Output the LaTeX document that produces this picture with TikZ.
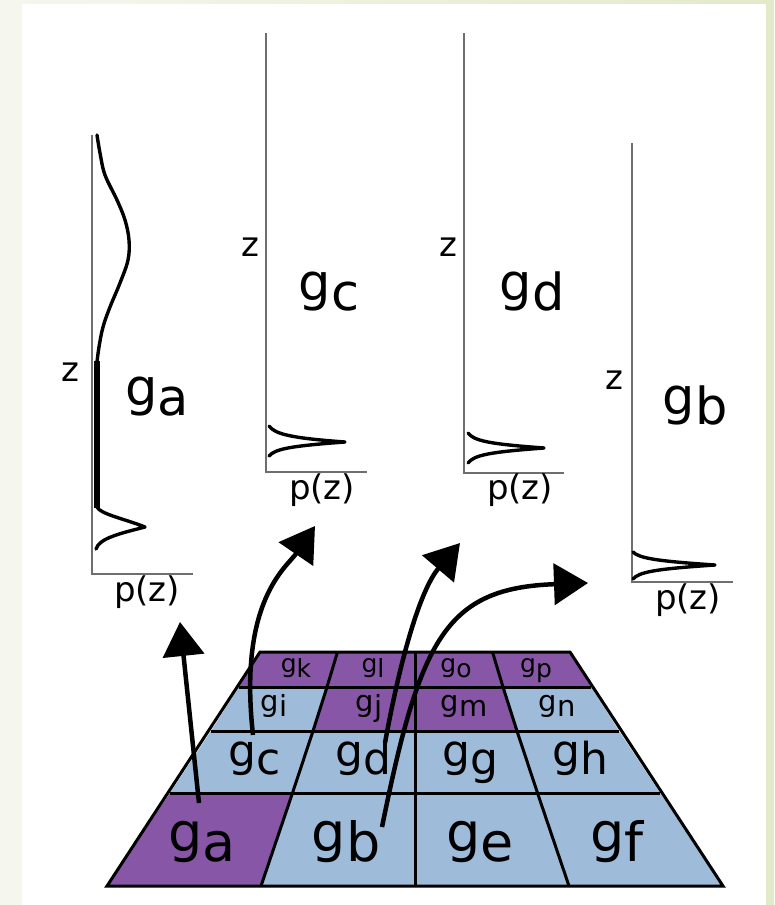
\documentclass[tikz,border=0pt]{standalone}
\usepackage{fontspec}
\setmainfont{DejaVu Sans}
\usetikzlibrary{arrows.meta}
\definecolor{cpurple}{HTML}{8856A7}
\definecolor{cblue}{HTML}{9EBCDA}
\definecolor{bgl}{HTML}{F5F7EE}
\definecolor{bgr}{HTML}{E2EACA}
\definecolor{axisgray}{HTML}{6E6E6E}
\newcommand{\gsub}[1]{g\raisebox{-0.2em}{#1}}
\newcommand{\fs}[1]{\fontsize{#1}{#1}\selectfont}
\begin{document}
\begin{tikzpicture}[x=1pt,y=-1pt,
  lbl/.style={inner sep=0pt,anchor=base},
  axisline/.style={draw=axisgray,line width=1.6pt},
  curve/.style={line width=3.4pt,line cap=round,line join=round},
  arr/.style={line width=4.5pt,-{Triangle[length=34pt,width=41pt]}},
  gridline/.style={line width=3pt,line join=miter}
]
\useasboundingbox (0,0) rectangle (774,905);
\shade[left color=bgl,right color=bgr] (0,0) rectangle (774,905);
\fill[white] (22,4) rectangle (766,905);

% grid coordinates
\foreach \r/\y/\h in {0/652/155,1/687/176,2/731/204,3/793/245,4/886/308}{
  \foreach \c in {0,...,4}{
    \coordinate (p\r\c) at ({415+(\c-2)*\h/2},\y);
  }
}
% cells
\foreach \r/\c/\col in {0/0/cpurple,0/1/cpurple,0/2/cpurple,0/3/cpurple,
                        1/0/cblue,1/1/cpurple,1/2/cpurple,1/3/cblue,
                        2/0/cblue,2/1/cblue,2/2/cblue,2/3/cblue,
                        3/0/cpurple,3/1/cblue,3/2/cblue,3/3/cblue}{
  \pgfmathtruncatemacro{\rr}{\r+1}
  \pgfmathtruncatemacro{\cc}{\c+1}
  \fill[\col] (p\r\c) -- (p\r\cc) -- (p\rr\cc) -- (p\rr\c) -- cycle;
}
\foreach \r in {1,2,3} \draw[gridline] (p\r0) -- (p\r4);
\foreach \c in {1,2,3} \draw[gridline] (p0\c) -- (p1\c) -- (p2\c) -- (p3\c) -- (p4\c);
\draw[gridline] (p00) -- (p04) -- (p44) -- (p40) -- cycle;

% cell labels
\node[lbl,font=\fs{25}] (gk) at (296,672) {\gsub{k}};
\node[lbl,font=\fs{25}] (gl) at (373,672) {\gsub{l}};
\node[lbl,font=\fs{25}] (go) at (456,672) {\gsub{o}};
\node[lbl,font=\fs{25}] (gp) at (536,672) {\gsub{p}};
\node[lbl,font=\fs{29}] (gi) at (274,711) {\gsub{i}};
\node[lbl,font=\fs{29}] (gj) at (369,711) {\gsub{j}};
\node[lbl,font=\fs{29}] (gm) at (464,711) {\gsub{m}};
\node[lbl,font=\fs{29}] (gn) at (557,711) {\gsub{n}};
\node[lbl,font=\fs{44}] (gc) at (255,766) {\gsub{c}};
\node[lbl,font=\fs{44}] (gd) at (363,766) {\gsub{d}};
\node[lbl,font=\fs{44}] (gg) at (470,766) {\gsub{g}};
\node[lbl,font=\fs{44}] (gh) at (580,766) {\gsub{h}};
\node[lbl,font=\fs{54}] (ga) at (202,851) {\gsub{a}};
\node[lbl,font=\fs{54}] (gb) at (346,851) {\gsub{b}};
\node[lbl,font=\fs{54}] (ge) at (480,851) {\gsub{e}};
\node[lbl,font=\fs{54}] (gf) at (617,851) {\gsub{f}};

% plots: axes
\draw[axisline] (92,135) -- (92,574) -- (193,574);
\draw[axisline] (266,33) -- (266,472) -- (367,472);
\draw[axisline] (464,33) -- (464,473) -- (564,473);
\draw[axisline] (632,143) -- (632,582) -- (733,582);

% plot curves
\draw[curve] plot[smooth,tension=0.6] coordinates {(97,135) (100,153) (105,175) (117,200) (125,220) (129,240) (128,260) (120,283) (110,307) (103,327) (99,347) (97,362)};
\draw[line width=5.5pt] (97,361) -- (97,508);
\draw[curve] (97,507) .. controls (100,514) and (125,519) .. (145,527) .. controls (122,533) and (99,538) .. (96,549);
\draw[curve] (269,426) .. controls (275,434) and (290,438) .. (345,442) .. controls (290,446) and (275,449) .. (269,456);
\draw[curve] (468,433) .. controls (474,441) and (490,444) .. (544,448) .. controls (490,452) and (474,455) .. (468,463);
\draw[curve] (633,552) .. controls (639,558) and (655,561) .. (715,565) .. controls (655,569) and (639,572) .. (633,579);

% plot labels
\node[lbl,font=\fs{51}] (la) at (157,405) {\gsub{a}};
\node[lbl,font=\fs{51}] (lc) at (329,300) {\gsub{c}};
\node[lbl,font=\fs{51}] (ld) at (532,300) {\gsub{d}};
\node[lbl,font=\fs{51}] (lb) at (695,414) {\gsub{b}};
\node[lbl,font=\fs{34}] (za) at (70,381) {z};
\node[lbl,font=\fs{34}] (zc) at (250,256) {z};
\node[lbl,font=\fs{34}] (zd) at (448,256) {z};
\node[lbl,font=\fs{34}] (zb) at (614,389) {z};
\node[lbl,font=\fs{34}] (pa) at (147,601) {p(z)};
\node[lbl,font=\fs{34}] (pc) at (322,499) {p(z)};
\node[lbl,font=\fs{34}] (pd) at (520,499) {p(z)};
\node[lbl,font=\fs{34}] (pb) at (688,609) {p(z)};

% arrows
\coordinate (a1s) at (199,803); \coordinate (a1e) at (180,622);
\coordinate (a2s) at (253,735); \coordinate (a2e) at (315,526);
\coordinate (a3s) at (385,743); \coordinate (a3e) at (460,543);
\coordinate (a4s) at (382,827); \coordinate (a4e) at (588,583);
\draw[arr] (a1s) -- (a1e);
\draw[arr] (a2s) .. controls (238,600) and (287,567) .. (a2e);
\draw[arr] (a3s) .. controls (400,660) and (420,590) .. (a3e);
\draw[arr] (a4s) .. controls (420,640) and (445,588) .. (a4e);
\end{tikzpicture}
\end{document}
